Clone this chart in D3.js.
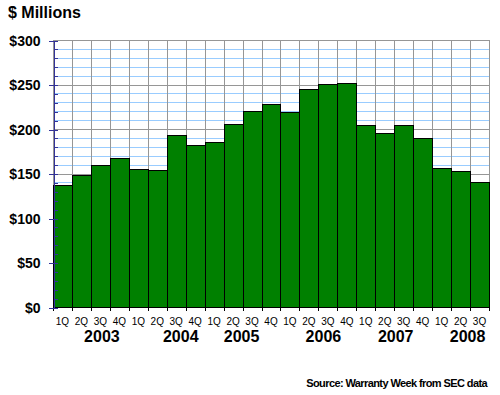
<!DOCTYPE html>
<html>
<head>
<meta charset="utf-8">
<script src="https://cdn.jsdelivr.net/npm/d3@7"></script>
<style>
  body { margin: 0; background: #fff; }
  svg { display: block; font-family: Arial, "Liberation Sans", sans-serif; }
</style>
</head>
<body>
<div class="chart"></div>
<script>
// Warranty spending by quarter, $ millions
const years = ['2003', '2004', '2005', '2006', '2007', '2008']
const periods = [
  '2003 1Q', '2003 2Q', '2003 3Q', '2003 4Q',
  '2004 1Q', '2004 2Q', '2004 3Q', '2004 4Q',
  '2005 1Q', '2005 2Q', '2005 3Q', '2005 4Q',
  '2006 1Q', '2006 2Q', '2006 3Q', '2006 4Q',
  '2007 1Q', '2007 2Q', '2007 3Q', '2007 4Q',
  '2008 1Q', '2008 2Q', '2008 3Q'
]
const values = [137, 148, 159, 167, 155, 154, 193, 182, 185, 206, 220, 228,
  219, 245, 251, 252, 204, 196, 204, 190, 156, 153, 140]
const majorTicks = [0, 50, 100, 150, 200, 250, 300]
const minorTicks = d3.range(0, 301, 10)

// the year labels in the original sit a little off their quarter groups
const yearNudge = [11, 14, -1, 5, 1.5, 7]

document.addEventListener('DOMContentLoaded', start)

function start () {
  const svg = d3.select('.chart')
    .append('svg')
    .attr('width', 500)
    .attr('height', 395)

  const x = d3.scaleBand()
    .domain(periods)
    .range([53, 489])
    .padding(0)

  const y = d3.scaleLinear()
    .domain([0, 300])
    .range([307, 40])

  drawGrid(svg, x, y)
  drawBars(svg, x, y)
  drawAxes(svg, x, y)
  drawText(svg, x)
}

function drawGrid (svg, x, y) {
  const grid = svg.append('g').attr('shape-rendering', 'crispEdges')
  const [x0, x1] = x.range()

  grid.selectAll('.minor')
    .data(minorTicks.filter(d => d % 50 !== 0))
    .enter().append('line')
    .attr('x1', x0).attr('x2', x1)
    .attr('y1', d => Math.round(y(d)) + 0.5)
    .attr('y2', d => Math.round(y(d)) + 0.5)
    .attr('stroke', '#99ccff')

  grid.selectAll('.major')
    .data(majorTicks)
    .enter().append('line')
    .attr('x1', x0).attr('x2', x1)
    .attr('y1', d => Math.round(y(d)) + 0.5)
    .attr('y2', d => Math.round(y(d)) + 0.5)
    .attr('stroke', '#969696')

  // vertical lines on every quarter boundary, plus the right edge
  const edges = periods.map(p => x(p)).concat([x1])
  grid.selectAll('.vert')
    .data(edges)
    .enter().append('line')
    .attr('x1', d => Math.round(d) + 0.5)
    .attr('x2', d => Math.round(d) + 0.5)
    .attr('y1', y(300))
    .attr('y2', y(0))
    .attr('stroke', '#969696')
}

function drawBars (svg, x, y) {
  svg.append('g')
    .selectAll('rect')
    .data(periods)
    .enter().append('rect')
    .attr('x', d => Math.round(x(d)) + 0.5)
    .attr('width', d => Math.round(x(d) + x.bandwidth()) - Math.round(x(d)))
    .attr('y', (d, i) => Math.round(y(values[i])) + 0.5)
    .attr('height', (d, i) => Math.round(y(0)) - Math.round(y(values[i])))
    .attr('fill', '#008000')
    .attr('stroke', '#000')
    .attr('stroke-width', 1)
    .attr('shape-rendering', 'crispEdges')
}

function drawAxes (svg, x, y) {
  const [x0, x1] = x.range()
  const navy = '#333399'

  // quarter labels under each bar
  const xAxis = svg.append('g')
    .attr('transform', `translate(0,${y(0) + 0.5})`)
    .call(d3.axisBottom(x)
      .tickSizeInner(0)
      .tickSizeOuter(0)
      .tickPadding(10)
      .tickFormat(d => d.split(' ')[1]))
  xAxis.select('.domain').remove()
  xAxis.selectAll('text')
    .attr('font-size', 10)
    .attr('font-family', 'Arial, "Liberation Sans", sans-serif')
    .attr('fill', '#000')

  // bottom line with ticks on the boundaries
  const base = svg.append('g').attr('shape-rendering', 'crispEdges')
  base.append('line')
    .attr('x1', x0).attr('x2', x1 + 1)
    .attr('y1', Math.round(y(0)) + 0.5).attr('y2', Math.round(y(0)) + 0.5)
    .attr('stroke', '#000')
  base.selectAll('.btick')
    .data(periods.map(p => x(p)).concat([x1]))
    .enter().append('line')
    .attr('x1', d => Math.round(d) + 0.5)
    .attr('x2', d => Math.round(d) + 0.5)
    .attr('y1', y(0))
    .attr('y2', y(0) + 4)
    .attr('stroke', '#000')

  // inner minor ticks
  svg.append('g')
    .attr('transform', `translate(${x0 + 0.5},0.5)`)
    .attr('shape-rendering', 'crispEdges')
    .call(d3.axisRight(y).tickValues(minorTicks).tickSize(4).tickFormat(''))
    .call(g => g.select('.domain').remove())
    .call(g => g.selectAll('line').attr('stroke', navy))

  // left axis with dollar labels
  const yAxis = svg.append('g')
    .attr('transform', `translate(${x0 + 0.5},0.5)`)
    .attr('shape-rendering', 'crispEdges')
    .call(d3.axisLeft(y)
      .tickValues(majorTicks)
      .tickSizeInner(5)
      .tickSizeOuter(0)
      .tickPadding(8)
      .tickFormat(d => '$' + d))
  yAxis.select('.domain').attr('stroke', navy)
  yAxis.selectAll('line').attr('stroke', navy)
  yAxis.selectAll('text')
    .attr('font-size', 14)
    .attr('font-weight', 'bold')
    .attr('font-family', 'Arial, "Liberation Sans", sans-serif')
    .attr('fill', '#000')
    .attr('dy', '0.35em')
}

function drawText (svg, x) {
  svg.append('text')
    .attr('x', 8)
    .attr('y', 18)
    .attr('font-size', 16)
    .attr('font-weight', 'bold')
    .text('$ Millions')

  // year labels centred under their quarters
  svg.append('g')
    .selectAll('text')
    .data(years)
    .enter().append('text')
    .attr('x', (yr, i) => {
      const own = periods.filter(p => p.startsWith(yr))
      const left = x(own[0])
      const right = x(own[own.length - 1]) + x.bandwidth()
      return (left + right) / 2 + yearNudge[i]
    })
    .attr('y', 342)
    .attr('text-anchor', 'middle')
    .attr('font-size', 16)
    .attr('font-weight', 'bold')
    .text(d => d)

  svg.append('text')
    .attr('x', 487)
    .attr('y', 387)
    .attr('text-anchor', 'end')
    .attr('font-size', 11)
    .attr('font-weight', 'bold')
    .attr('letter-spacing', -0.6)
    .text('Source: Warranty Week from SEC data')
}
</script>
</body>
</html>
